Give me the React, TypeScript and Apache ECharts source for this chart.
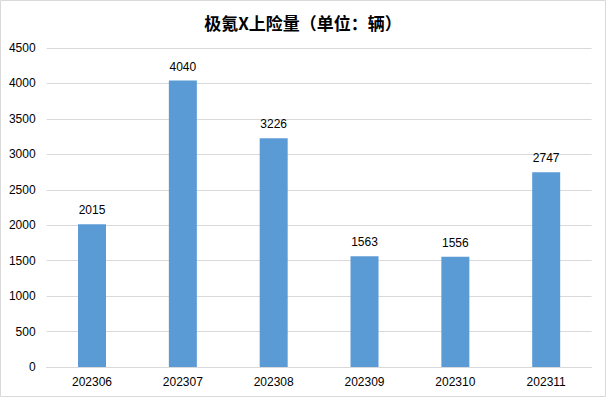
import React, { useEffect, useRef } from "react";
import * as echarts from "echarts";

const categories = ["202306", "202307", "202308", "202309", "202310", "202311"];
const values = [2015, 4040, 3226, 1563, 1556, 2747];
const titleText = "极氪X上险量（单位：辆）";

export default function App() {
  const ref = useRef<HTMLDivElement>(null);
  useEffect(() => {
    document.body.style.margin = "0";
    const chart = echarts.init(ref.current!, null, { renderer: "svg" });
    chart.setOption({
      animation: false,
      backgroundColor: "#ffffff",
      title: {
        text: titleText,
        left: "center",
        top: 9,
        textStyle: {
          fontFamily: "Noto Sans CJK SC",
          fontWeight: "bold",
          fontSize: 17,
          color: "#000",
        },
      },
      graphic: [
        {
          type: "rect",
          shape: { x: 0.5, y: 0.5, width: 605, height: 396 },
          style: { fill: "none", stroke: "#d9d9d9", lineWidth: 1 },
          silent: true,
        },
      ],
      grid: { left: 46.6, right: 14.4, top: 48, bottom: 30, containLabel: false },
      xAxis: {
        type: "category",
        data: categories,
        axisLine: { lineStyle: { color: "#d9d9d9" } },
        axisTick: { show: false },
        axisLabel: { color: "#000", fontSize: 12, margin: 9, fontFamily: "sans-serif" },
      },
      yAxis: {
        type: "value",
        min: 0,
        max: 4500,
        interval: 500,
        axisLine: { show: false },
        axisTick: { show: false },
        axisLabel: {
          color: "#000",
          fontSize: 12,
          margin: 11,
          fontFamily: "sans-serif",
          formatter: (v: number) => String(v),
        },
        splitLine: { lineStyle: { color: "#d9d9d9" } },
      },
      series: [
        {
          type: "bar",
          data: values,
          barWidth: 28,
          itemStyle: { color: "#5b9bd5" },
          label: {
            show: true,
            position: "top",
            distance: 8,
            color: "#000",
            fontSize: 12,
            fontFamily: "sans-serif",
          },
        },
      ],
    });
    return () => chart.dispose();
  }, []);
  return <div ref={ref} style={{ width: 606, height: 397 }} />;
}
